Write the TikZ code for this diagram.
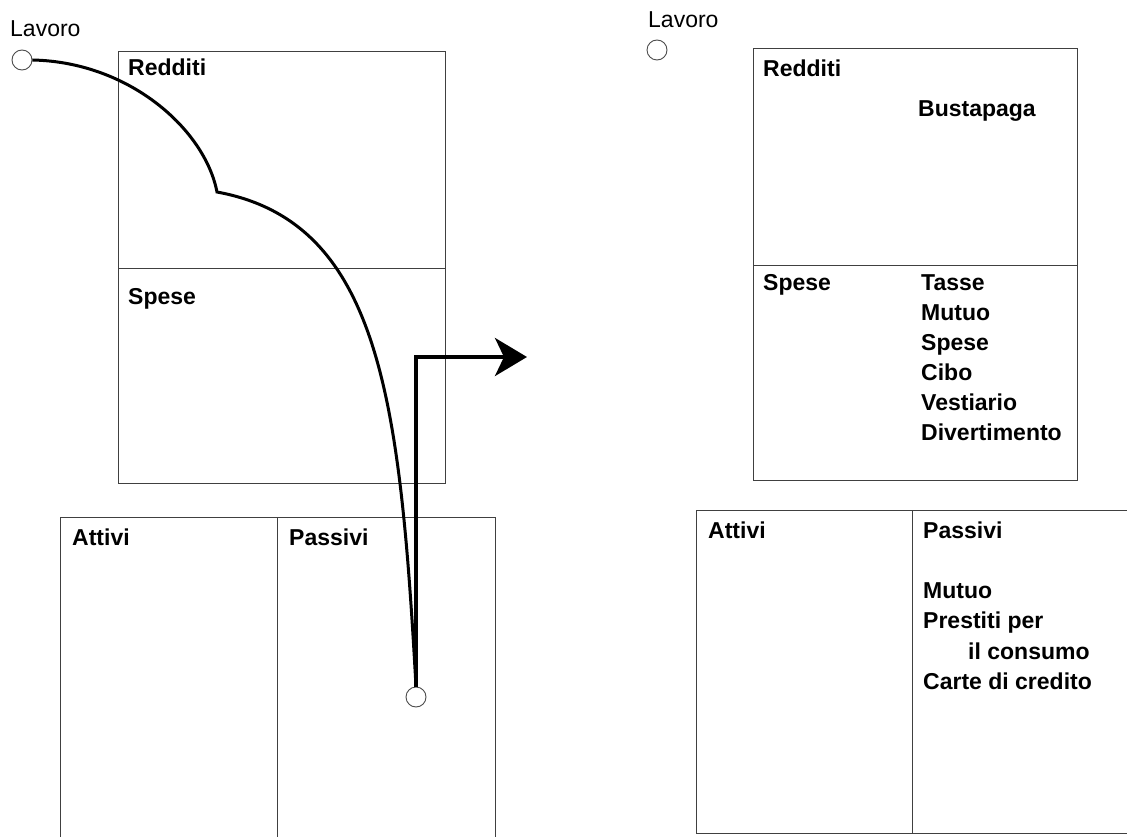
\documentclass[tikz,border=0pt]{standalone}
\usepackage{fontspec}
\setmainfont{Liberation Sans}
\usetikzlibrary{arrows.meta}
\begin{document}
\begin{tikzpicture}[x=1pt,y=-1pt,
  panel/.style={draw=black!75, line width=1.3pt, anchor=north west, inner sep=0pt, rectangle},
  lbl/.style={anchor=base west, inner sep=0pt, font=\fontsize{23}{27}\selectfont\bfseries},
  toplbl/.style={anchor=base west, inner sep=0pt, font=\fontsize{23}{27}\selectfont},
  port/.style={circle, draw=black!70, line width=0.9pt, minimum size=20pt, inner sep=0pt},
  flow/.style={draw=black, line width=3pt},
  outflow/.style={draw=black, line width=4pt, -{Stealth[length=32pt,width=38pt,inset=9pt]}}
]
\clip (0,0) rectangle (1127,837);
\fill[white] (0,0) rectangle (1127,837);

% ---------- left diagram ----------
\node[panel, minimum width=327pt, minimum height=217pt] (redL) at (118,51) {};
\node[panel, minimum width=327pt, minimum height=215pt] (speL) at (118,268) {};
\node[panel, minimum width=217pt, minimum height=340pt] (attL) at (60,517) {};
\node[panel, minimum width=218pt, minimum height=340pt] (pasL) at (277,517) {};

\node[toplbl] (lavLt) at (10,37) {Lavoro};
\node[lbl] (redLt) at (128,76) {Redditi};
\node[lbl] (speLt) at (128,304) {Spese};
\node[lbl] (attLt) at (72,545) {Attivi};
\node[lbl] (pasLt) at (289,545) {Passivi};

\node[port] (lavL) at (22,60) {};
\node[port] (pasC) at (416,697) {};
\coordinate (kink) at (217,192);
\coordinate (arrtip) at (527,357);

\draw[flow] (lavL.east) .. controls (130,62) and (205,130) .. (kink)
  .. controls (380,222) and (400,400) .. (pasC.north);
\draw[outflow] (pasC.north) |- (arrtip);

% ---------- right diagram ----------
\node[panel, minimum width=324pt, minimum height=217pt] (redR) at (753,48) {};
\node[panel, minimum width=324pt, minimum height=215pt] (speR) at (753,265) {};
\node[panel, minimum width=216pt, minimum height=323pt] (attR) at (696,510) {};
\node[panel, minimum width=240pt, minimum height=323pt] (pasR) at (912,510) {};

\node[toplbl] (lavRt) at (648,28) {Lavoro};
\node[port] (lavR) at (657,50) {};

\node[lbl] (redRt) at (763,77) {Redditi};
\node[lbl] (busta) at (918,117) {Bustapaga};

\node[lbl] (speRt) at (763,290) {Spese};
\node[lbl] (s1) at (921,290) {Tasse};
\node[lbl] (s2) at (921,320) {Mutuo};
\node[lbl] (s3) at (921,350) {Spese};
\node[lbl] (s4) at (921,380) {Cibo};
\node[lbl] (s5) at (921,410) {Vestiario};
\node[lbl] (s6) at (921,440) {Divertimento};

\node[lbl] (attRt) at (708,538) {Attivi};
\node[lbl] (pasRt) at (923,538) {Passivi};
\node[lbl] (p1) at (923,598) {Mutuo};
\node[lbl] (p2) at (923,628) {Prestiti per};
\node[lbl] (p3) at (968,659) {il consumo};
\node[lbl] (p4) at (923,689) {Carte di credito};
\end{tikzpicture}
\end{document}
